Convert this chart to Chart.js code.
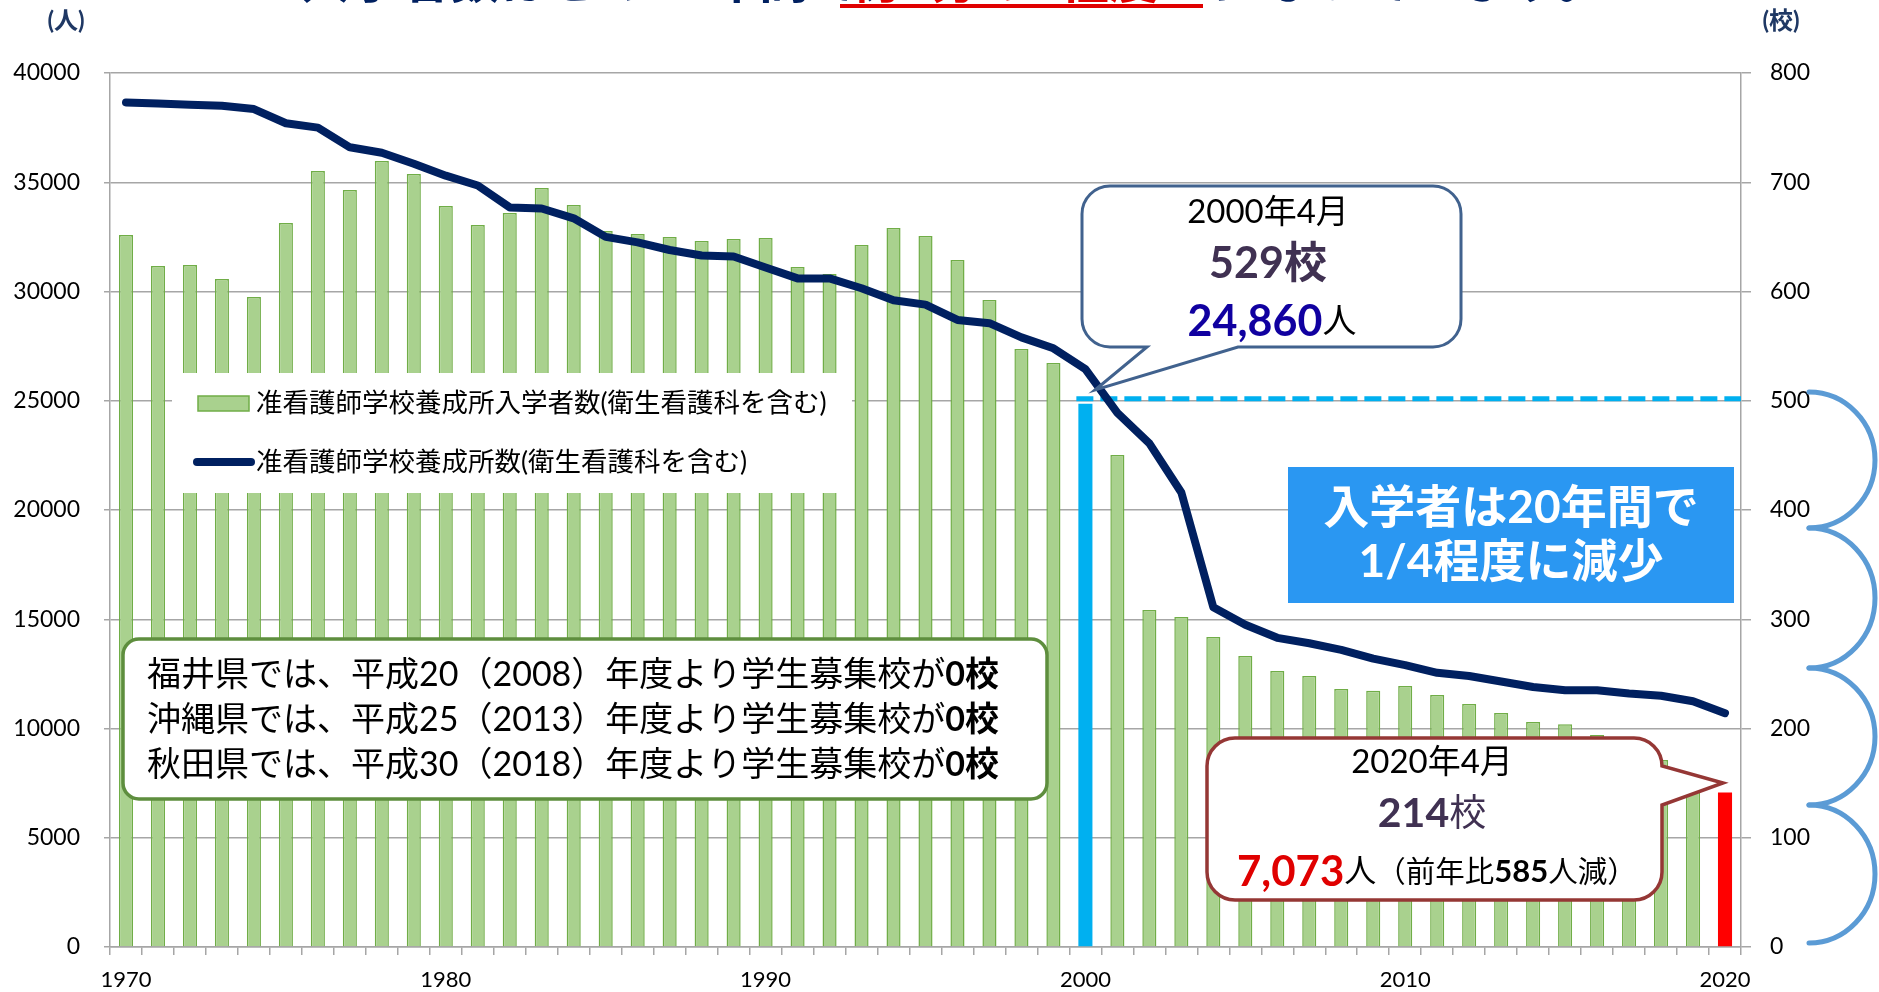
<!DOCTYPE html>
<html lang="ja">
<head>
<meta charset="utf-8">
<title>准看護師学校養成所数と入学者数</title>
<script src="https://cdn.jsdelivr.net/npm/chart.js@4.4.1/dist/chart.umd.min.js"></script>
<style>
  html, body { margin: 0; padding: 0; background: #fff; }
  #wrap { width: 1879px; height: 992px; }
</style>
</head>
<body>
<div id="wrap"><canvas id="chart" width="1879" height="992"></canvas></div>
<script>
const years = [
  1970, 1971, 1972, 1973, 1974, 1975, 1976, 1977, 1978, 1979,
  1980, 1981, 1982, 1983, 1984, 1985, 1986, 1987, 1988, 1989,
  1990, 1991, 1992, 1993, 1994, 1995, 1996, 1997, 1998, 1999,
  2000, 2001, 2002, 2003, 2004, 2005, 2006, 2007, 2008, 2009,
  2010, 2011, 2012, 2013, 2014, 2015, 2016, 2017, 2018, 2019,
  2020,
];

// 入学者数 (人) - left axis
const students = [
  32590, 31170, 31210, 30570, 29750, 33130, 35510, 34640, 35970, 35380,
  33910, 33040, 33590, 34740, 33960, 32770, 32630, 32490, 32310, 32400,
  32450, 31120, 30800, 32130, 32910, 32540, 31440, 29610, 27370, 26730,
  24860, 22520, 15420, 15100, 14190, 13320, 12630, 12400, 11810, 11730,
  11950, 11530, 11120, 10710, 10300, 10200, 9700, 9100, 8560, 7658,
  7073,
];

// 養成所数 (校) - right axis
const schools = [
  773, 772, 771, 770, 767, 754, 750, 732, 727, 717,
  706, 697, 677, 676, 667, 650, 645, 638, 633, 632,
  622, 612, 612, 603, 592, 588, 574, 571, 558, 548,
  529, 489, 461, 416, 311, 295, 283, 278, 272, 264,
  258, 251, 248, 243, 238, 235, 235, 232, 230, 225,
  214,
];

const xTickYears = [1970, 1980, 1990, 2000, 2010, 2020];
const barLabel = '准看護師学校養成所入学者数(衛生看護科を含む)';
const lineLabel = '准看護師学校養成所数(衛生看護科を含む)';

const FONT = "Lato, 'Noto Sans CJK JP', sans-serif";
const JP = "'Noto Sans CJK JP', sans-serif";
Chart.defaults.font.family = FONT;

const barFill = years.map((y) => (y === 2000 ? '#00B0F0' : y === 2020 ? '#FF0000' : '#A9D18E'));
const barBorder = years.map((y) => (y === 2000 ? '#00B0F0' : y === 2020 ? '#FF0000' : '#70AD47'));
const barBorderW = years.map((y) => (y === 2000 || y === 2020 ? 0 : 1.5));

// draw text made of several styled pieces on one line
function drawRuns(ctx, parts, x, y, align) {
  let w = 0;
  parts.forEach((p) => { ctx.font = p.font; w += ctx.measureText(p.text).width; });
  let cx = align === 'center' ? x - w / 2 : x;
  ctx.textAlign = 'left';
  ctx.textBaseline = 'middle';
  parts.forEach((p) => {
    ctx.font = p.font;
    ctx.fillStyle = p.color;
    ctx.fillText(p.text, cx, y);
    cx += ctx.measureText(p.text).width;
  });
}

const overlay = {
  id: 'overlay',
  beforeDatasetsDraw(chart) {
    const { ctx, chartArea, scales } = chart;
    const i = years.indexOf(2000);
    const meta = chart.getDatasetMeta(1).data[i];
    const y = scales.y.getPixelForValue(students[i]) - 5;
    ctx.save();
    ctx.strokeStyle = '#00B0F0';
    ctx.lineWidth = 5;
    ctx.setLineDash([17, 7]);
    ctx.beginPath();
    ctx.moveTo(meta.x - meta.width / 2 - 2, y);
    ctx.lineTo(chartArea.right, y);
    ctx.stroke();
    ctx.restore();
  },
  afterDatasetsDraw(chart) {
    const { ctx } = chart;
    ctx.save();

    // legend box (covers bars)
    ctx.fillStyle = '#fff';
    ctx.fillRect(172, 373, 680, 120);
    ctx.fillStyle = '#A9D18E';
    ctx.strokeStyle = '#70AD47';
    ctx.lineWidth = 1.5;
    ctx.fillRect(198, 396, 51, 15);
    ctx.strokeRect(198, 396, 51, 15);
    ctx.strokeStyle = '#002060';
    ctx.lineWidth = 8;
    ctx.lineCap = 'round';
    ctx.beginPath();
    ctx.moveTo(197, 462);
    ctx.lineTo(251, 462);
    ctx.stroke();
    drawRuns(ctx, [{ text: barLabel, font: `26.5px ${FONT}`, color: '#000' }], 256, 403, 'left');
    drawRuns(ctx, [{ text: lineLabel, font: `26.5px ${FONT}`, color: '#000' }], 256, 462, 'left');

    // green note box
    ctx.beginPath();
    ctx.roundRect(123, 639, 924, 160, 16);
    ctx.fillStyle = '#fff';
    ctx.fill();
    ctx.strokeStyle = '#5E8E3E';
    ctx.lineWidth = 3.5;
    ctx.stroke();
    const notes = [
      '福井県では、平成20（2008）年度より学生募集校が',
      '沖縄県では、平成25（2013）年度より学生募集校が',
      '秋田県では、平成30（2018）年度より学生募集校が',
    ];
    notes.forEach((t, k) => {
      drawRuns(ctx, [
        { text: t, font: `34px ${FONT}`, color: '#000' },
        { text: '0校', font: `bold 34px ${FONT}`, color: '#000' },
      ], 147, 675 + k * 45, 'left');
    });

    // blue message box
    ctx.fillStyle = '#2A97F2';
    ctx.fillRect(1288, 467, 446, 136);
    drawRuns(ctx, [{ text: '入学者は20年間で', font: `bold 46px ${FONT}`, color: '#fff' }], 1511, 508, 'center');
    drawRuns(ctx, [{ text: '1/4程度に減少', font: `bold 46px ${FONT}`, color: '#fff' }], 1511, 562, 'center');

    // callout 2000
    let L = 1082, T = 186, R = 1461, B = 347, r = 28;
    ctx.beginPath();
    ctx.moveTo(L + r, T);
    ctx.lineTo(R - r, T);
    ctx.arcTo(R, T, R, T + r, r);
    ctx.lineTo(R, B - r);
    ctx.arcTo(R, B, R - r, B, r);
    ctx.lineTo(1238, B);
    ctx.lineTo(1095, 390);
    ctx.lineTo(1147, B);
    ctx.lineTo(L + r, B);
    ctx.arcTo(L, B, L, B - r, r);
    ctx.lineTo(L, T + r);
    ctx.arcTo(L, T, L + r, T, r);
    ctx.closePath();
    ctx.fillStyle = '#fff';
    ctx.fill();
    ctx.strokeStyle = '#41628E';
    ctx.lineWidth = 3;
    ctx.lineJoin = 'miter';
    ctx.stroke();
    drawRuns(ctx, [{ text: '2000年4月', font: `33px ${FONT}`, color: '#000' }], 1268, 212, 'center');
    drawRuns(ctx, [{ text: '529校', font: `bold 43px ${FONT}`, color: '#403152' }], 1268, 264, 'center');
    drawRuns(ctx, [
      { text: '24,860', font: `bold 43px ${FONT}`, color: '#1000A0' },
      { text: '人', font: `34px ${FONT}`, color: '#000' },
    ], 1272, 322, 'center');

    // callout 2020
    L = 1207; T = 738; R = 1662; B = 900; r = 28;
    ctx.beginPath();
    ctx.moveTo(L + r, T);
    ctx.lineTo(R - r, T);
    ctx.arcTo(R, T, R, T + r, r);
    ctx.lineTo(1723, 783);
    ctx.lineTo(R, 805);
    ctx.lineTo(R, B - r);
    ctx.arcTo(R, B, R - r, B, r);
    ctx.lineTo(L + r, B);
    ctx.arcTo(L, B, L, B - r, r);
    ctx.lineTo(L, T + r);
    ctx.arcTo(L, T, L + r, T, r);
    ctx.closePath();
    ctx.fillStyle = '#fff';
    ctx.fill();
    ctx.strokeStyle = '#953735';
    ctx.lineWidth = 3.5;
    ctx.stroke();
    drawRuns(ctx, [{ text: '2020年4月', font: `33px ${FONT}`, color: '#000' }], 1432, 762, 'center');
    drawRuns(ctx, [
      { text: '214', font: `bold 41px ${FONT}`, color: '#403152' },
      { text: '校', font: `37px ${FONT}`, color: '#403152' },
    ], 1432, 814, 'center');
    drawRuns(ctx, [
      { text: '7,073', font: `bold 42px ${FONT}`, color: '#E00000' },
      { text: '人', font: `32px ${FONT}`, color: '#000' },
      { text: '（前年比', font: `29.5px ${FONT}`, color: '#000' },
      { text: '585', font: `bold 31px ${FONT}`, color: '#000' },
      { text: '人減）', font: `29.5px ${FONT}`, color: '#000' },
    ], 1237, 872, 'left');

    // unit labels
    drawRuns(ctx, [{ text: '(人)', font: `bold 24px ${FONT}`, color: '#1F3864' }], 66, 21, 'center');
    drawRuns(ctx, [{ text: '(校)', font: `bold 24px ${FONT}`, color: '#1F3864' }], 1781, 21, 'center');

    // title (cut off at the top of the picture)
    ctx.textBaseline = 'alphabetic';
    ctx.textAlign = 'left';
    ctx.font = `bold 50px ${JP}`;
    ctx.fillStyle = '#002060';
    ctx.fillText('入学者数はこの20年間で、', 300, -2);
    ctx.fillStyle = '#E00000';
    ctx.fillText('約4分の1程度', 850, -2);
    ctx.fillStyle = '#002060';
    ctx.fillText('になっています。', 1212, -2);
    ctx.fillStyle = '#E00000';
    ctx.fillRect(840, 4, 363, 4);

    // brace on the right
    ctx.strokeStyle = '#5B9BD5';
    ctx.lineWidth = 5;
    const cusps = [392, 528, 668, 805, 943];
    for (let k = 0; k < cusps.length - 1; k++) {
      const a = cusps[k], b = cusps[k + 1];
      ctx.beginPath();
      ctx.ellipse(1809, (a + b) / 2, 66, (b - a) / 2, 0, -Math.PI / 2, Math.PI / 2);
      ctx.stroke();
    }

    ctx.restore();
  },
};

new Chart(document.getElementById('chart'), {
  type: 'bar',
  data: {
    labels: years,
    datasets: [
      {
        type: 'line',
        label: lineLabel,
        data: schools,
        yAxisID: 'y1',
        borderColor: '#002060',
        borderWidth: 8,
        pointRadius: 0,
        tension: 0,
        borderCapStyle: 'round',
        borderJoinStyle: 'round',
        order: 0,
      },
      {
        label: barLabel,
        data: students,
        yAxisID: 'y',
        backgroundColor: barFill,
        borderColor: barBorder,
        borderWidth: barBorderW,
        barPercentage: 0.44,
        categoryPercentage: 1.0,
        order: 1,
      },
    ],
  },
  options: {
    responsive: false,
    devicePixelRatio: 1,
    animation: false,
    layout: { padding: { top: 73, left: 0, right: 0, bottom: 0 } },
    plugins: {
      legend: { display: false },
      title: { display: false },
      tooltip: { enabled: false },
    },
    scales: {
      x: {
        grid: { offset: true, drawOnChartArea: false, tickLength: 8, color: '#A6A6A6', lineWidth: 1.5 },
        border: { color: '#A6A6A6', width: 1.5 },
        ticks: {
          autoSkip: false,
          maxRotation: 0,
          padding: 12,
          color: '#000',
          font: { size: 22 },
          callback: (v, i) => (xTickYears.includes(years[i]) ? String(years[i]) : ''),
        },
        afterFit: (s) => { s.height = 45; },
      },
      y: {
        position: 'left',
        min: 0,
        max: 40000,
        ticks: { stepSize: 5000, padding: 24, color: '#000', font: { size: 23 }, callback: (v) => String(v) },
        grid: { color: '#A6A6A6', lineWidth: 1.5, tickLength: 6 },
        border: { color: '#A6A6A6', width: 1.5 },
        afterFit: (s) => { s.width = 110; },
      },
      y1: {
        position: 'right',
        min: 0,
        max: 800,
        ticks: { stepSize: 100, padding: 19, color: '#000', font: { size: 23 }, callback: (v) => String(v) },
        grid: { drawOnChartArea: false, color: '#A6A6A6', lineWidth: 1.5, tickLength: 10 },
        border: { color: '#A6A6A6', width: 1.5 },
        afterFit: (s) => { s.width = 138; },
      },
    },
  },
  plugins: [overlay],
});
</script>
</body>
</html>
